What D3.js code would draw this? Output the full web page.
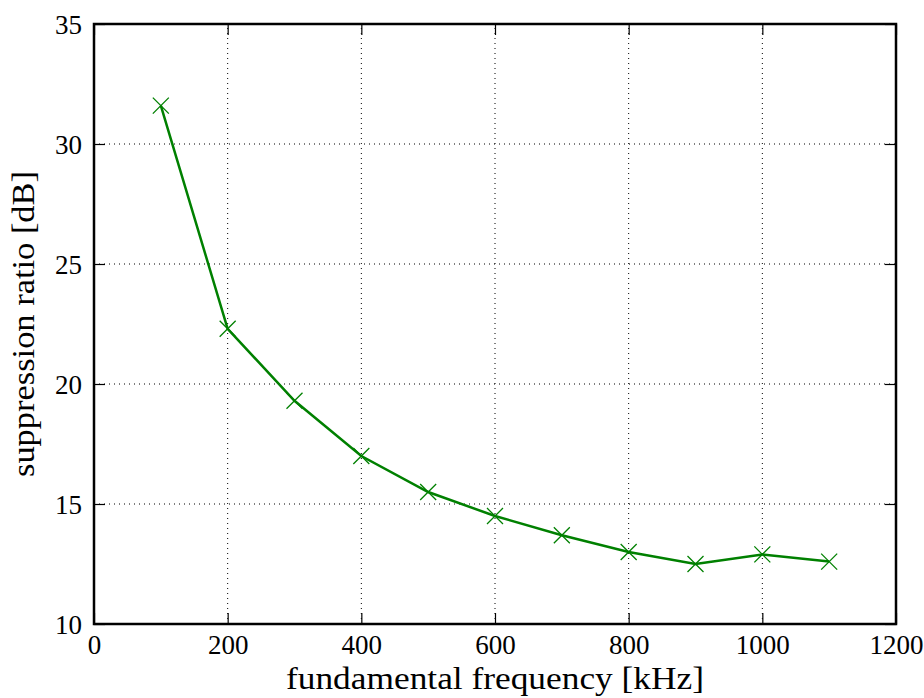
<!DOCTYPE html>
<html><head><meta charset="utf-8">
<script src="https://cdn.jsdelivr.net/npm/d3@7"></script>
<style>body{margin:0;background:#fff;} svg{display:block;}</style>
</head><body>
<script>
const frequencies = [100, 200, 300, 400, 500, 600, 700, 800, 900, 1000, 1100];
const suppression = [31.6, 22.3, 19.3, 17.0, 15.5, 14.5, 13.7, 13.0, 12.5, 12.9, 12.6];
const xTicks = [0, 200, 400, 600, 800, 1000, 1200];
const yTicks = [10, 15, 20, 25, 30, 35];
const xLabel = "fundamental frequency [kHz]";
const yLabel = "suppression ratio [dB]";

const W = 924, H = 698;
const m = {left: 94, right: 28, top: 24, bottom: 74};
const font = "'Liberation Serif', serif";
const svg = d3.select("body").append("svg").attr("width", W).attr("height", H);
const x = d3.scaleLinear().domain([0, 1200]).range([m.left, W - m.right]);
const y = d3.scaleLinear().domain([10, 35]).range([H - m.bottom, m.top]);

// grid
const g = svg.append("g");
g.selectAll(".gx").data(xTicks.slice(1, -1)).enter().append("line")
  .attr("x1", d => x(d)).attr("x2", d => x(d)).attr("y1", y(10)).attr("y2", y(35))
  .attr("stroke", "#000").attr("stroke-width", 1).attr("stroke-dasharray", "1,4");
g.selectAll(".gy").data(yTicks.slice(1, -1)).enter().append("line")
  .attr("y1", d => y(d)).attr("y2", d => y(d)).attr("x1", x(0)).attr("x2", x(1200))
  .attr("stroke", "#000").attr("stroke-width", 1).attr("stroke-dasharray", "1,4");

// axes with inward ticks
const ax = svg.append("g").attr("transform", `translate(0,${y(10)})`)
  .call(d3.axisBottom(x).tickValues(xTicks).tickSize(-11).tickFormat(d3.format("d")));
const axTop = svg.append("g").attr("transform", `translate(0,${y(35)})`)
  .call(d3.axisTop(x).tickValues(xTicks).tickSize(-11).tickFormat(""));
const ay = svg.append("g").attr("transform", `translate(${x(0)},0)`)
  .call(d3.axisLeft(y).tickValues(yTicks).tickSize(-11));
const ayR = svg.append("g").attr("transform", `translate(${x(1200)},0)`)
  .call(d3.axisRight(y).tickValues(yTicks).tickSize(-11).tickFormat(""));
[ax, axTop, ay, ayR].forEach(a => {
  a.attr("font-size", null).attr("font-family", null);
  a.select(".domain").remove();
  a.selectAll(".tick line").attr("stroke", "#000").attr("stroke-width", 1.2);
  a.selectAll("text").style("font-family", font).style("font-size", "27px").attr("fill", "#000");
});
ax.selectAll("text").attr("y", 30).attr("dy", null);
ay.selectAll("text").attr("x", -12).attr("dy", "0.34em");

svg.append("rect").attr("x", x(0)).attr("y", y(35)).attr("width", x(1200) - x(0)).attr("height", y(10) - y(35))
  .attr("fill", "none").attr("stroke", "#000").attr("stroke-width", 2.5);

// data line
const data = frequencies.map((f, i) => [f, suppression[i]]);
svg.append("path").datum(data)
  .attr("d", d3.line().x(d => x(d[0])).y(d => y(d[1])))
  .attr("fill", "none").attr("stroke", "#008000").attr("stroke-width", 2.5);
const s = 8;
svg.selectAll(".mk").data(data).enter().append("path")
  .attr("d", d => {
    const cx = x(d[0]), cy = y(d[1]);
    return `M${cx - s},${cy - s}L${cx + s},${cy + s}M${cx - s},${cy + s}L${cx + s},${cy - s}`;
  })
  .attr("stroke", "#008000").attr("stroke-width", 1.3).attr("fill", "none");

// labels
svg.append("text").attr("x", (x(0) + x(1200)) / 2).attr("y", 689).attr("text-anchor", "middle")
  .style("font-family", font).style("font-size", "32px")
  .attr("textLength", 418).attr("lengthAdjust", "spacingAndGlyphs").text(xLabel);
svg.append("text").attr("transform", `translate(34,${(y(10) + y(35)) / 2}) rotate(-90)`)
  .attr("text-anchor", "middle").style("font-family", font).style("font-size", "32px")
  .attr("textLength", 306).attr("lengthAdjust", "spacingAndGlyphs").text(yLabel);
</script>
</body></html>
